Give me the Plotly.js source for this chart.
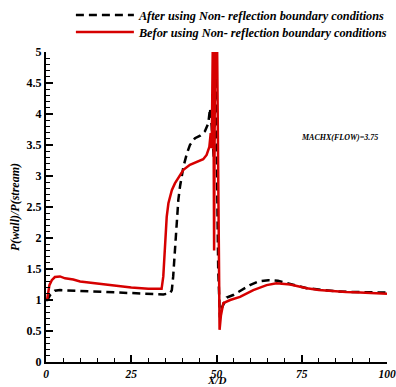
<!DOCTYPE html>
<html>
<head>
<meta charset="utf-8">
<script src="https://cdn.plot.ly/plotly-3.0.1.min.js"></script>
<style>html,body{margin:0;padding:0;background:#fff;}</style>
</head>
<body>
<div id="chart" style="width:396px;height:387px;"></div>
<script>
// After using Non- reflection boundary conditions (black dashed)
const afterX = [0, 0.4, 1.2, 2.6, 4.1, 8, 12, 16, 20, 25, 30, 34.4, 36.4, 36.9, 37.3, 37.8, 38.3, 38.8, 39.3, 39.8, 40.3, 41.3, 42.2, 43.7, 45.2, 46.6, 47.6, 48.1, 48.6, 49.2, 49.8, 50.5, 51.0, 51.6, 52.5, 53.0, 54.9, 57.4, 59.8, 62.3, 65.2, 68, 70.6, 73.5, 76.5, 80, 85, 89, 94, 98.8, 100];
const afterY = [1.0, 1.0, 1.08, 1.15, 1.16, 1.15, 1.14, 1.13, 1.12, 1.11, 1.10, 1.09, 1.11, 1.16, 1.38, 1.81, 2.24, 2.61, 2.83, 2.99, 3.15, 3.36, 3.50, 3.61, 3.65, 3.72, 3.85, 4.09, 3.80, 3.30, 4.60, 1.50, 0.72, 0.88, 1.0, 1.04, 1.08, 1.16, 1.24, 1.30, 1.32, 1.31, 1.27, 1.23, 1.19, 1.17, 1.14, 1.13, 1.12, 1.12, 1.12];

// Befor using Non- reflection boundary conditions (red solid)
const beforX = [0, 0.4, 1.0, 1.7, 2.6, 4.1, 5.6, 8, 10, 15.8, 20, 25, 30, 33.4, 33.9, 34.4, 34.9, 35.4, 35.9, 36.9, 37.8, 39.3, 40.3, 42.2, 44.2, 46.1, 47.1, 47.9, 48.3, 48.6, 49.0, 49.3, 49.6, 50.1, 50.9, 51.3, 52.0, 54.0, 56.9, 60.8, 64.7, 67.6, 71.6, 76.5, 80, 84.3, 88, 92.1, 96, 100];
const beforY = [1.0, 1.03, 1.24, 1.32, 1.37, 1.38, 1.35, 1.33, 1.30, 1.26, 1.23, 1.20, 1.18, 1.17, 1.18, 1.38, 1.97, 2.34, 2.56, 2.77, 2.88, 3.02, 3.10, 3.18, 3.23, 3.27, 3.34, 3.47, 3.69, 3.45, 5.6, 1.80, 5.6, 5.6, 0.52, 0.75, 0.95, 1.0, 1.05, 1.16, 1.24, 1.27, 1.25, 1.19, 1.16, 1.14, 1.13, 1.12, 1.11, 1.10];

const xTicks = [0, 25, 50, 75, 100];
const yTicks = [0, 0.5, 1, 1.5, 2, 2.5, 3, 3.5, 4, 4.5, 5];
const yTickText = ['0', '0.5', '1', '1.5', '2', '2.5', '3', '3.5', '4', '4.5', '5'];

const serif = 'Liberation Serif, Times New Roman, serif';
const biFont = (s) => ({family: serif, size: s, color: '#000', weight: 'bold', style: 'italic'});

const traces = [
  {x: afterX, y: afterY, type: 'scatter', mode: 'lines',
   name: 'After using Non- reflection boundary conditions', legend: 'legend',
   line: {color: '#000000', width: 2.5, dash: '8px,5px'}},
  {x: beforX, y: beforY, type: 'scatter', mode: 'lines',
   name: 'Befor using Non- reflection boundary conditions', legend: 'legend2',
   line: {color: '#d60000', width: 2.5}}
];

const legendBase = {x: 0.073, xanchor: 'left', yanchor: 'middle', bgcolor: 'rgba(0,0,0,0)',
                    font: biFont(12.3), itemwidth: 58, borderwidth: 0};

const layout = {
  width: 396, height: 387,
  margin: {l: 46, r: 9, t: 52, b: 25, pad: 0, autoexpand: false},
  paper_bgcolor: '#fff', plot_bgcolor: '#fff',
  showlegend: true,
  legend: Object.assign({}, legendBase, {y: 1.119}),
  legend2: Object.assign({}, legendBase, {y: 1.0645}),
  xaxis: {range: [0, 100], tickvals: xTicks, ticktext: xTicks.map(String),
          ticks: 'inside', ticklen: 7, tickwidth: 2, tickcolor: '#000',
          minor: {dtick: 5, ticks: 'inside', ticklen: 4, tickwidth: 1, tickcolor: '#000'},
          showline: true, linewidth: 2, linecolor: '#000', showgrid: false, zeroline: false,
          tickfont: biFont(11.5), automargin: false},
  yaxis: {range: [0, 5], tickvals: yTicks, ticktext: yTickText,
          ticks: 'inside', ticklen: 7, tickwidth: 2, tickcolor: '#000',
          minor: {dtick: 0.1, ticks: 'inside', ticklen: 4, tickwidth: 1, tickcolor: '#000'},
          showline: true, linewidth: 2, linecolor: '#000', showgrid: false, zeroline: false,
          tickfont: {family: serif, size: 12, color: '#000', weight: 'bold'}, automargin: false,
          title: {text: 'P(wall)/P(stream)', font: biFont(12), standoff: 4}},
  annotations: [
    {x: 0.5, y: -0.057, xref: 'paper', yref: 'paper', text: 'X/D', showarrow: false,
     xanchor: 'center', yanchor: 'middle', font: biFont(11)},
    {x: 86.0, y: 3.62, xref: 'x', yref: 'y', text: 'MACHX(FLOW)=3.75', showarrow: false,
     font: biFont(8)}
  ]
};

Plotly.newPlot('chart', traces, layout, {displayModeBar: false, staticPlot: true});
</script>
</body>
</html>
